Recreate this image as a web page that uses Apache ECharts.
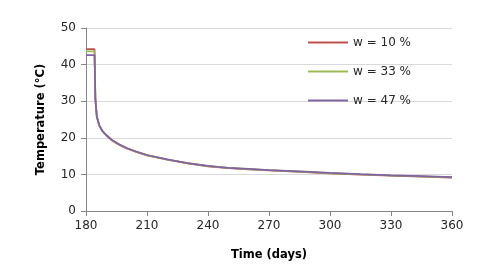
<!DOCTYPE html>
<html><head><meta charset="utf-8">
<script src="https://cdn.jsdelivr.net/npm/echarts@6/dist/echarts.min.js"></script>
<style>html,body{margin:0;padding:0;background:#fff}#c{width:480px;height:269px}</style>
</head><body><div id="c"></div>
<script>
var days = [180, 184.2, 184.6, 185.3, 186.5, 188, 190, 193, 196, 200, 205, 210, 220, 230, 240, 250, 260, 270, 285, 300, 315, 330, 345, 360];
var w10 = [44.2, 44.2, 31.0, 25.9, 23.4, 21.9, 20.7, 19.2, 18.2, 17.1, 16.1, 15.2, 14.0, 13.0, 12.2, 11.7, 11.4, 11.1, 10.7, 10.3, 9.95, 9.65, 9.4, 9.15];
var w33 = [43.6, 43.6, 30.8, 25.9, 23.4, 21.9, 20.7, 19.25, 18.25, 17.15, 16.15, 15.25, 14.05, 13.05, 12.25, 11.75, 11.45, 11.15, 10.75, 10.35, 10.0, 9.7, 9.45, 9.2];
var w47 = [42.6, 42.6, 30.5, 25.8, 23.4, 21.9, 20.7, 19.3, 18.3, 17.2, 16.2, 15.3, 14.1, 13.1, 12.3, 11.8, 11.5, 11.2, 10.8, 10.4, 10.05, 9.75, 9.5, 9.25];
var seriesNames = ['w = 10 %', 'w = 33 %', 'w = 47 %'];
var colors = ['#C0504D', '#9BBB59', '#8064A2'];
var xTitle = 'Time (days)';
var yTitle = 'Temperature (°C)';

function pairs(ys){ return days.map(function(d,i){ return [d, ys[i]]; }); }
var all = [w10, w33, w47];
var chart = echarts.init(document.getElementById('c'), null, {renderer:'canvas'});
var font = 'DejaVu Sans';
chart.setOption({
  animation: false,
  textStyle: {fontFamily: font},
  grid: {left: 86, right: 28, top: 28, bottom: 58, containLabel: false},
  legend: {
    orient: 'vertical', left: 303, top: 31.5, padding: 5,
    icon: 'rect', itemWidth: 40, itemHeight: 2, itemGap: 17,
    textStyle: {fontFamily: font, fontSize: 12, color: '#262626'},
    data: seriesNames
  },
  xAxis: {
    type: 'value', min: 180, max: 360, interval: 30,
    name: xTitle, nameLocation: 'middle', nameGap: 38,
    nameTextStyle: {fontFamily: font, fontWeight: 'bold', fontSize: 11.5, color: '#000'},
    axisLine: {show: true, lineStyle: {color: '#868686', width: 1}},
    axisTick: {show: true, length: 5, lineStyle: {color: '#868686'}},
    axisLabel: {fontFamily: font, fontSize: 12, color: '#262626', margin: 9},
    splitLine: {show: false}
  },
  yAxis: {
    type: 'value', min: 0, max: 50, interval: 10,
    name: yTitle, nameLocation: 'middle', nameGap: 39, nameRotate: 90,
    nameTextStyle: {fontFamily: font, fontWeight: 'bold', fontSize: 11.5, color: '#000'},
    axisLine: {show: true, lineStyle: {color: '#868686', width: 1}},
    axisTick: {show: true, length: 5, lineStyle: {color: '#868686'}},
    axisLabel: {fontFamily: font, fontSize: 12, color: '#262626', margin: 10},
    splitLine: {show: true, lineStyle: {color: '#D9D9D9', width: 1}}
  },
  series: all.map(function(ys, i){
    return {
      name: seriesNames[i], type: 'line', data: pairs(ys),
      symbol: 'none', smooth: false,
      lineStyle: {color: colors[i], width: 1.75},
      itemStyle: {color: colors[i]}
    };
  })
});
</script></body></html>
